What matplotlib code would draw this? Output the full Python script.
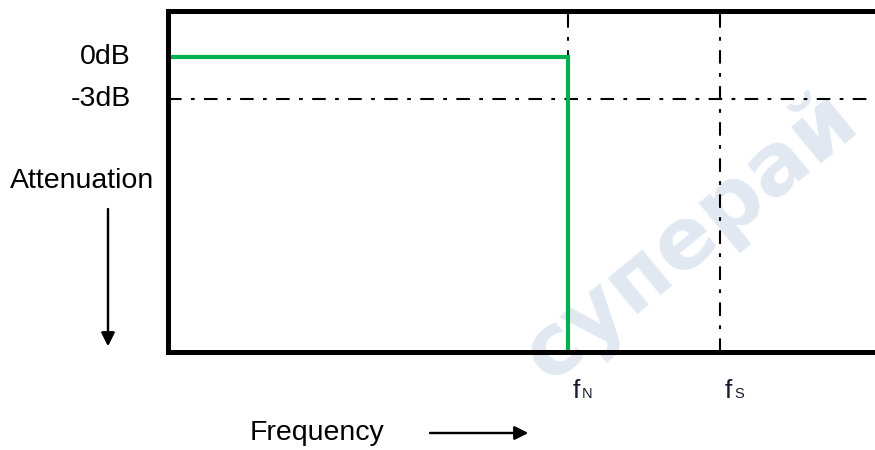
import matplotlib.pyplot as plt

plt.rcParams['font.family'] = ['Liberation Sans', 'DejaVu Sans']

# frequency axis (normalised so that fs = 1), attenuation in dB
f_nyquist = 0.725
f_sample = 1.0
level_pass = 0.0
level_3db = -3.0
y_bottom = -21.04
y_top = 3.32
x_right = 1.308

filter_freq = [0.0, f_nyquist, f_nyquist]
filter_gain = [level_pass, level_pass, y_bottom]

level_labels = ['0dB', '-3dB']
level_values = [level_pass, level_3db]

marker_freqs = [f_nyquist, f_sample]
marker_subs = ['N', 'S']

W, H = 875, 450


def px(x, y):
    return x / W, 1 - y / H


fig = plt.figure(figsize=(8.75, 4.5), dpi=100)
ax = fig.add_axes([167.5 / W, 1 - 351.5 / H, (890 - 167.5) / W, (351.5 - 10.5) / H])
ax.set_xlim(0, x_right)
ax.set_ylim(y_bottom, y_top)
ax.set_facecolor('none')
for s in ax.spines.values():
    s.set_linewidth(3.6)
    s.set_zorder(3)
ax.set_xticks([])
ax.set_yticks([])

dashdot = (0, (6.5, 4.5, 1.8, 4.5))
ax.axhline(level_3db, color='black', lw=1.5, linestyle=dashdot, zorder=2)
ax.axvline(f_nyquist, color='black', lw=1.5, linestyle=dashdot, zorder=2)
ax.axvline(f_sample, color='black', lw=1.5, linestyle=dashdot, zorder=2)
ax.plot(filter_freq, filter_gain, color='#00b050', lw=3, zorder=2.5,
        solid_joinstyle='miter', clip_on=False)

# watermark
ax.text(*px(549, 384), 'суперай', transform=fig.transFigure, fontsize=62,
        family='DejaVu Sans', fontweight='bold', color='#c8d6e8', alpha=0.55,
        rotation=39.4, rotation_mode='anchor', ha='left', va='baseline',
        zorder=0.5, clip_on=False)

# level labels on the left
for lab, val in zip(level_labels, level_values):
    ax.text(-0.066, val, lab, ha='right', va='center', fontsize=20.5,
            transform=ax.transData, clip_on=False)

fig.text(*px(10, 181), 'Attenuation', ha='left', va='center', fontsize=20.5)
fig.text(*px(250, 433), 'Frequency', ha='left', va='center', fontsize=20.5)

arrow = dict(arrowstyle='-|>', lw=1.6, color='black', mutation_scale=20,
             shrinkA=0, shrinkB=0)
fig.add_artist(plt.annotate('', xy=px(108, 346), xytext=px(108, 209),
                            xycoords='figure fraction', textcoords='figure fraction',
                            arrowprops=arrow))
fig.add_artist(plt.annotate('', xy=px(528, 433), xytext=px(430, 433),
                            xycoords='figure fraction', textcoords='figure fraction',
                            arrowprops=arrow))

# frequency markers below the axis
base = -24.36
for f, sub in zip(marker_freqs, marker_subs):
    ax.text(f + 0.008, base, 'f', ha='left', va='baseline', fontsize=19,
            transform=ax.transData, clip_on=False, color='#1a1a2e')
    ax.text(f + 0.0255, base, sub, ha='left', va='baseline', fontsize=10.5,
            transform=ax.transData, clip_on=False, color='#1a1a2e')

fig.savefig('out.png', dpi=100)
